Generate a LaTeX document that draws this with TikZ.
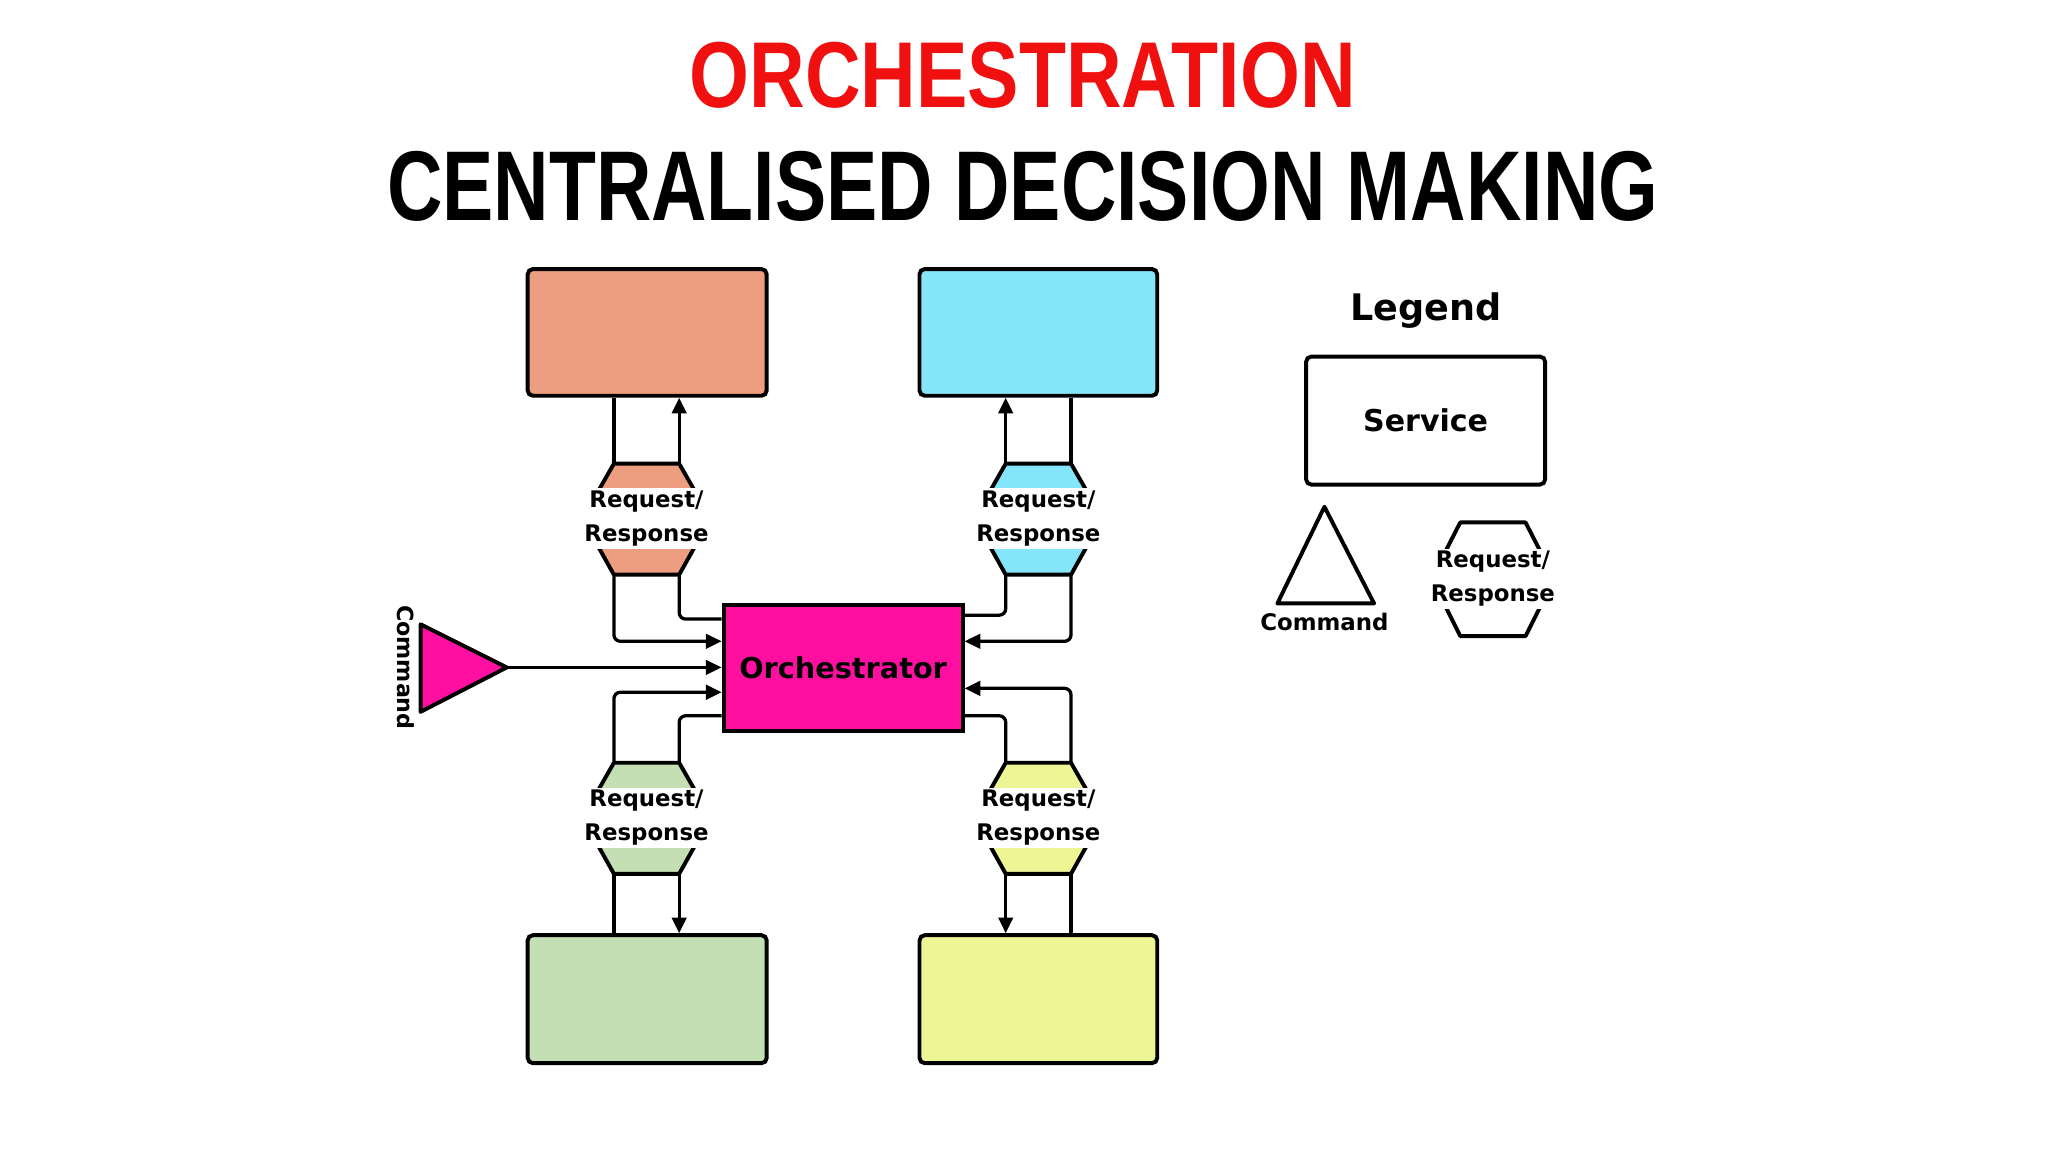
\documentclass[tikz,border=0pt]{standalone}
\usepackage{fontspec}
\setmainfont{DejaVu Sans}
\newfontfamily\titlefont{Liberation Sans}
\usetikzlibrary{arrows.meta}
\definecolor{corange}{HTML}{EE9E80}
\definecolor{ccyan}{HTML}{85E6FB}
\definecolor{cgreen}{HTML}{C5DFB4}
\definecolor{cyellow}{HTML}{EEF595}
\definecolor{cmag}{HTML}{FF0FA0}
\definecolor{cred}{HTML}{F01010}
\tikzset{
  svc/.style={draw,line width=3pt,rounded corners=4pt},
  conn/.style={line width=2.5pt,rounded corners=5pt},
  arr/.style={conn,-{Triangle[length=12pt,width=11pt]}},
  hexlbl/.style={fill=white,inner sep=1pt,minimum width=106pt,minimum height=46pt,align=center,font=\bfseries\fontsize{17.5}{26}\selectfont},
  hexline/.style={line width=3pt,line join=round}
}
\newcommand{\hexat}[3]{% center x, center y, colour
  \filldraw[hexline,fill=#3] (#1-25,#2-42) -- (#1+25,#2-42) -- (#1+49,#2) -- (#1+25,#2+43) -- (#1-25,#2+43) -- (#1-49,#2) -- cycle;
}
\begin{document}
\begin{tikzpicture}[x=1pt,y=-1pt]
\useasboundingbox[fill=white] (0,0) rectangle (1568,882);
% titles
\node[text=cred,inner sep=0] (t1) at (783,58) {\resizebox{510pt}{50pt}{\titlefont\bfseries ORCHESTRATION}};
\node[inner sep=0] (t2) at (783,143) {\resizebox{973pt}{53pt}{\titlefont\bfseries CENTRALISED DECISION MAKING}};
% services
\node[svc,fill=corange,minimum width=183pt,minimum height=97pt] (so) at (495.5,254.5) {};
\node[svc,fill=ccyan,minimum width=182pt,minimum height=97pt] (sc) at (795,254.5) {};
\node[svc,fill=cgreen,minimum width=183pt,minimum height=98pt] (sg) at (495.5,765) {};
\node[svc,fill=cyellow,minimum width=182pt,minimum height=98pt] (sy) at (795,765) {};
\node[draw,line width=3pt,fill=cmag,minimum width=183pt,minimum height=97pt,font=\bfseries\fontsize{22}{24}\selectfont] (orc) at (645.5,511.5) {Orchestrator};
% hexagons
\hexat{495}{397}{corange}
\hexat{795}{397}{ccyan}
\hexat{495}{626}{cgreen}
\hexat{795}{626}{cyellow}
\node[hexlbl] (h1) at (495,397) {Request/\\Response};
\node[hexlbl] (h2) at (795,397) {Request/\\Response};
\node[hexlbl] (h3) at (495,626) {Request/\\Response};
\node[hexlbl] (h4) at (795,626) {Request/\\Response};
% coordinates
\coordinate (a1) at (470,355); \coordinate (a2) at (520,355);
\coordinate (a3) at (470,440); \coordinate (a4) at (520,440);
\coordinate (b1) at (770,355); \coordinate (b2) at (820,355);
\coordinate (b3) at (770,440); \coordinate (b4) at (820,440);
\coordinate (c1) at (470,584); \coordinate (c2) at (520,584);
\coordinate (c3) at (470,669); \coordinate (c4) at (520,669);
\coordinate (d1) at (770,584); \coordinate (d2) at (820,584);
\coordinate (d3) at (770,669); \coordinate (d4) at (820,669);
% top-left
\draw[conn] (so.south -| a1) -- (a1);
\draw[arr] (a2) -- (so.south -| a2);
\draw[arr] (a3) |- (orc.west |- 0,491);
\draw[conn] (orc.west |- 0,474) -| (a4);
% top-right
\draw[arr] (b1) -- (sc.south -| b1);
\draw[conn] (sc.south -| b2) -- (b2);
\draw[conn] (b3) |- (orc.east |- 0,471);
\draw[arr] (b4) |- (orc.east |- 0,491);
% bottom-left
\draw[arr] (c1) |- (orc.west |- 0,530);
\draw[conn] (orc.west |- 0,548) -| (c2);
\draw[conn] (c3) -- (sg.north -| c3);
\draw[arr] (c4) -- (sg.north -| c4);
% bottom-right
\draw[conn] (orc.east |- 0,548) -| (d1);
\draw[arr] (d2) |- (orc.east |- 0,527);
\draw[arr] (d3) -- (sy.north -| d3);
\draw[conn] (d4) -- (sy.north -| d4);
% command
\filldraw[line width=3pt,line join=round,fill=cmag] (322,478) -- (388,511) -- (322,545) -- cycle;
\coordinate (cmdtip) at (388,511);
\draw[arr] (cmdtip) -- (orc.west |- 0,511);
\node[rotate=-90,font=\bfseries\fontsize{17}{18}\selectfont] (cmdl) at (311,511) {Command};
% legend
\node[font=\bfseries\fontsize{28}{30}\selectfont] (leg) at (1092,238) {Legend};
\node[svc,minimum width=183pt,minimum height=98pt,font=\bfseries\fontsize{23}{26}\selectfont] (ls) at (1091.5,322) {Service};
\draw[line width=3pt,line join=round] (1014,388) -- (1052,462) -- (978,462) -- cycle;
\node[font=\bfseries\fontsize{17.5}{18}\selectfont] (lc) at (1014,476) {Command};
\draw[hexline] (1118,400) -- (1168,400) -- (1190,443) -- (1168,487) -- (1118,487) -- (1096,443) -- cycle;
\node[hexlbl] (lh) at (1143,443) {Request/\\Response};
\end{tikzpicture}
\end{document}
